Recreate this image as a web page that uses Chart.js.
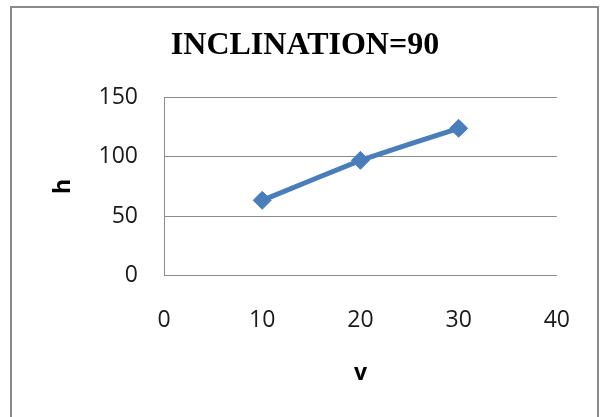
<!DOCTYPE html>
<html>
<head>
<meta charset="utf-8">
<script src="https://cdn.jsdelivr.net/npm/chart.js@4/dist/chart.umd.min.js"></script>
<style>
  html, body { margin: 0; padding: 0; background: #ffffff; }
  #wrap { position: relative; width: 601px; height: 417px; }
</style>
</head>
<body>
<div id="wrap"><canvas id="chart" width="601" height="417"></canvas></div>
<script>
// Measured speed v and height h at an inclination of 90 degrees
const vValues = [10, 20, 30];
const hValues = [63.3, 97, 124];
const xTicks = [0, 10, 20, 30, 40];
const yTicks = [0, 50, 100, 150];
const chartTitle = 'INCLINATION=90';
const xTitle = 'v';
const yTitle = 'h';

const points = vValues.map((v, i) => ({ x: v, y: hValues[i] }));

const gridGrey = '#8c8c8c';
const tickFont = { family: 'Open Sans', size: 23 };
const axisTitleFont = { family: 'Open Sans', size: 23, weight: 'bold' };

// White page with a grey frame around the chart
const framePlugin = {
  id: 'frame',
  beforeDraw(chart) {
    const ctx = chart.ctx;
    ctx.save();
    ctx.fillStyle = '#ffffff';
    ctx.fillRect(0, 0, chart.width, chart.height);
    ctx.strokeStyle = '#8a8a8a';
    ctx.lineWidth = 2;
    ctx.strokeRect(11, 7, 587, 420);
    ctx.restore();
  }
};

new Chart(document.getElementById('chart'), {
  type: 'line',
  data: {
    datasets: [{
      data: points,
      borderColor: '#4a7ebb',
      backgroundColor: '#4a7ebb',
      borderWidth: 5,
      pointStyle: 'rectRot',
      pointRadius: 9,
      pointHoverRadius: 9,
      pointBorderWidth: 1,
      pointBorderColor: '#4a7ebb',
      pointBackgroundColor: '#4a7ebb',
      tension: 0.05,
      fill: false
    }]
  },
  options: {
    responsive: false,
    animation: false,
    layout: { padding: { left: 9, right: 0, top: 0, bottom: 0 } },
    plugins: {
      legend: { display: false },
      tooltip: { enabled: false },
      title: {
        display: true,
        text: chartTitle,
        color: '#000000',
        font: { family: 'Liberation Serif', size: 32, weight: 'bold' },
        padding: { top: 27, bottom: 32 }
      }
    },
    scales: {
      x: {
        type: 'linear',
        min: xTicks[0],
        max: xTicks[xTicks.length - 1],
        afterBuildTicks(scale) { scale.ticks = xTicks.map(v => ({ value: v })); },
        afterFit(scale) { scale.height = 417 - 275.5; },
        grid: { display: false, drawTicks: false },
        border: { display: true, color: gridGrey, width: 1 },
        ticks: { color: '#1a1a1a', font: tickFont, padding: 31, maxRotation: 0 },
        title: {
          display: true, text: xTitle, color: '#000000',
          font: axisTitleFont, padding: { top: 0, bottom: 30 }
        }
      },
      y: {
        type: 'linear',
        min: yTicks[0],
        max: yTicks[yTicks.length - 1],
        afterBuildTicks(scale) { scale.ticks = yTicks.map(v => ({ value: v })); },
        afterFit(scale) { scale.width = 155; },
        grid: { color: gridGrey, lineWidth: 1, drawTicks: false },
        border: { display: true, color: gridGrey, width: 1 },
        ticks: { color: '#1a1a1a', font: tickFont, padding: 26 },
        title: {
          display: true, text: yTitle, color: '#000000',
          font: axisTitleFont, padding: { top: 41, bottom: 0 }
        }
      },
      // empty right-hand margin so the plot ends at 40 while the title stays centred on the frame
      margin: {
        type: 'linear',
        position: 'right',
        display: true,
        afterFit(scale) { scale.width = 44; },
        grid: { display: false, drawTicks: false },
        border: { display: false },
        ticks: { display: false }
      }
    }
  },
  plugins: [framePlugin]
});
</script>
</body>
</html>
